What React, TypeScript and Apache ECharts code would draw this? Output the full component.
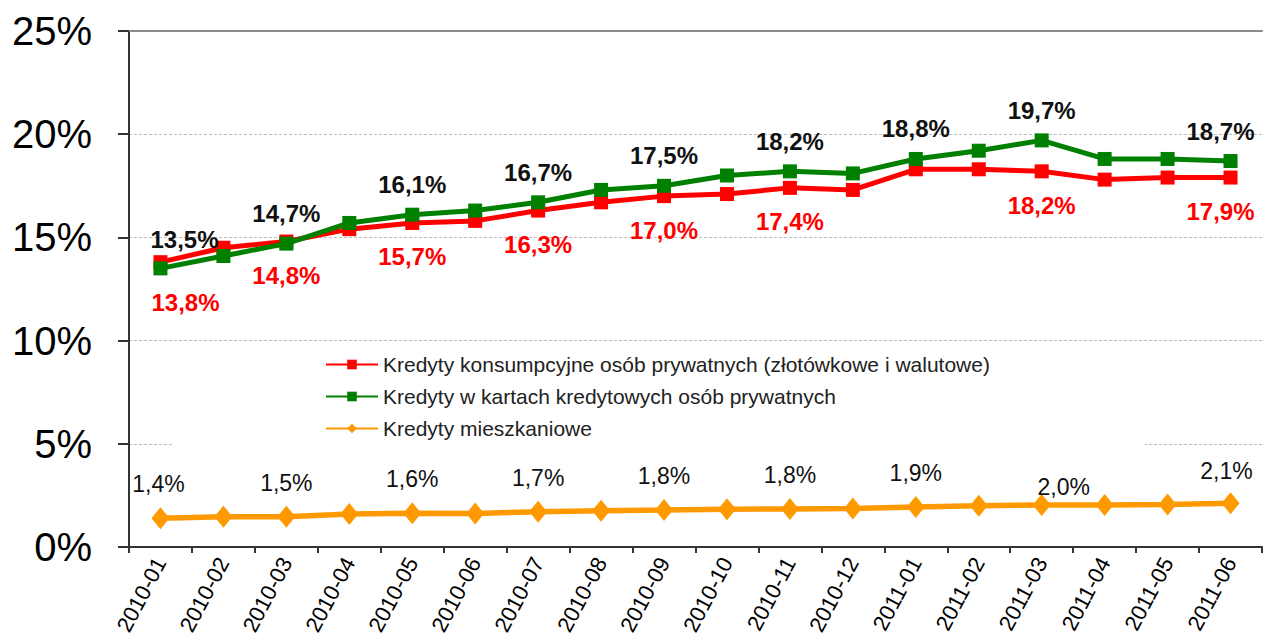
import React, { useEffect, useRef } from "react";
import * as echarts from "echarts";

const categories = [
  "2010-01", "2010-02", "2010-03", "2010-04", "2010-05", "2010-06",
  "2010-07", "2010-08", "2010-09", "2010-10", "2010-11", "2010-12",
  "2011-01", "2011-02", "2011-03", "2011-04", "2011-05", "2011-06",
];
const consumerLoans = [13.8, 14.5, 14.8, 15.4, 15.7, 15.8, 16.3, 16.7, 17.0, 17.1, 17.4, 17.3, 18.3, 18.3, 18.2, 17.8, 17.9, 17.9];
const cardLoans = [13.5, 14.1, 14.7, 15.7, 16.1, 16.3, 16.7, 17.3, 17.5, 18.0, 18.2, 18.1, 18.8, 19.2, 19.7, 18.8, 18.8, 18.7];
const mortgageLoans = [1.39, 1.47, 1.47, 1.6, 1.63, 1.62, 1.71, 1.76, 1.79, 1.83, 1.84, 1.86, 1.94, 2.0, 2.03, 2.04, 2.06, 2.12];
const seriesNames = [
  "Kredyty konsumpcyjne osób prywatnych (złotówkowe i walutowe)",
  "Kredyty w kartach kredytowych osób prywatnych",
  "Kredyty mieszkaniowe",
];
const consumerLabelIdx = [0, 2, 4, 6, 8, 10, 14, 17];
const cardLabelIdx = [0, 2, 4, 6, 8, 10, 12, 14, 17];
const mortgageLabelIdx = [0, 2, 4, 6, 8, 10, 12, 14, 17];
const yMin = 0;
const yMax = 25;
const yStep = 5;

const FONT = "'Liberation Sans', Arial, sans-serif";
const fmt = (v: number) => v.toFixed(1).replace(".", ",") + "%";

function buildData(
  values: number[],
  labelIdx: number[],
  baseOffset: [number, number],
  special: Record<number, [number, number]>,
  labelStyle: any
) {
  return values.map((v, i) => {
    if (!labelIdx.includes(i)) return { value: v, label: { show: false } };
    return {
      value: v,
      label: {
        show: true,
        position: "inside",
        offset: special[i] || baseOffset,
        formatter: () => fmt(v),
        ...labelStyle,
      },
    };
  });
}

export default function App() {
  const ref = useRef<HTMLDivElement>(null);
  useEffect(() => {
    if (!ref.current) return;
    const chart = echarts.init(ref.current, undefined, { renderer: "svg" });
    const boldLabel = { fontFamily: FONT, fontSize: 24, fontWeight: "bold" };
    chart.setOption({
      animation: false,
      backgroundColor: "#ffffff",
      textStyle: { fontFamily: FONT },
      grid: { left: 129, right: 2, top: 31, bottom: 94, containLabel: false },
      legend: {
        orient: "vertical",
        left: 172,
        top: 346,
        padding: [8, 155, 10, 153],
        backgroundColor: "#ffffff",
        itemWidth: 52,
        itemHeight: 12,
        itemGap: 11,
        textStyle: { fontFamily: FONT, fontSize: 21, color: "#222" },
        data: seriesNames,
      },
      xAxis: [
        {
          type: "category",
          data: categories,
          boundaryGap: true,
          axisLine: { lineStyle: { color: "#333", width: 2 } },
          axisTick: { show: true, length: 6, lineStyle: { color: "#333", width: 2 } },
          axisLabel: {
            rotate: 62,
            margin: 12,
            fontFamily: FONT,
            fontSize: 22,
            color: "#000",
            interval: 0,
          },
          splitLine: { show: false },
        },
        {
          type: "category",
          data: categories,
          position: "top",
          axisLine: { lineStyle: { color: "#8c8c8c", width: 2 } },
          axisTick: { show: false },
          axisLabel: { show: false },
        },
      ],
      yAxis: {
        type: "value",
        min: yMin,
        max: yMax,
        interval: yStep,
        axisLine: { show: true, lineStyle: { color: "#333", width: 2 } },
        axisTick: { show: true, length: 11, lineStyle: { color: "#333", width: 2 } },
        axisLabel: {
          formatter: "{value}%",
          margin: 37,
          fontFamily: FONT,
          fontSize: 40,
          color: "#000",
        },
        splitLine: { show: true, lineStyle: { color: "#bdbdbd", type: [3, 2], width: 1 } },
      },
      series: [
        {
          name: seriesNames[0],
          type: "line",
          data: buildData(consumerLoans, consumerLabelIdx, [0, 34], { 0: [25, 40], 17: [-10, 34] }, { ...boldLabel, color: "#ff0000" }),
          symbol: "rect",
          symbolSize: 14,
          lineStyle: { color: "#ff0000", width: 5 },
          itemStyle: { color: "#ff0000" },
          z: 3,
        },
        {
          name: seriesNames[1],
          type: "line",
          data: buildData(cardLoans, cardLabelIdx, [0, -30], { 0: [24, -29], 17: [-10, -30] }, { ...boldLabel, color: "#111" }),
          symbol: "rect",
          symbolSize: 14,
          lineStyle: { color: "#008000", width: 5 },
          itemStyle: { color: "#008000" },
          z: 4,
        },
        {
          name: seriesNames[2],
          type: "line",
          data: buildData(mortgageLoans, mortgageLabelIdx, [0, -34], { 0: [-2, -34], 14: [22, -18], 17: [-4, -32] }, { fontFamily: FONT, fontSize: 23, color: "#111" }),
          symbol: "diamond",
          symbolSize: [18, 22],
          lineStyle: { color: "#ff9900", width: 5.5 },
          itemStyle: { color: "#ff9900" },
          z: 3,
        },
      ],
    });
    return () => chart.dispose();
  }, []);
  return (
    <div
      ref={ref}
      style={{ position: "fixed", left: 0, top: 0, width: 1264, height: 641, background: "#fff" }}
    />
  );
}
